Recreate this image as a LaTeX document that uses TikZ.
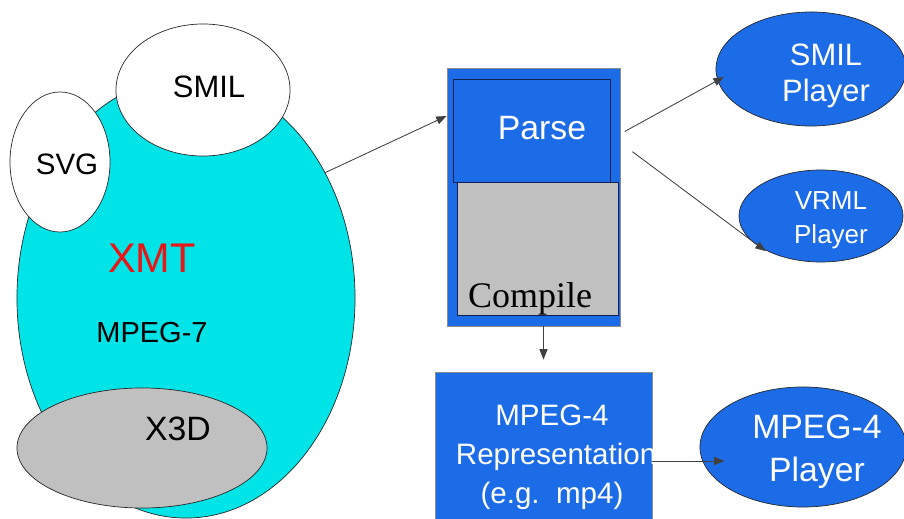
\documentclass[tikz,border=0pt]{standalone}
\usepackage{fontspec}
\setmainfont{Liberation Sans}
\newfontfamily\serifface{Liberation Serif}
\usetikzlibrary{arrows.meta,calc,positioning,shapes.geometric}
\definecolor{pptblue}{RGB}{28,108,232}
\definecolor{xmtcyan}{RGB}{0,228,232}
\definecolor{boxgray}{RGB}{192,192,192}
\definecolor{edge}{RGB}{40,40,40}
\definecolor{navy}{RGB}{16,32,80}
\definecolor{xmtred}{RGB}{236,20,20}

\tikzset{
  blob/.style={ellipse,draw=edge,line width=0.5pt,inner sep=0pt},
  panel/.style={rectangle,draw=edge,line width=0.5pt,inner sep=0pt},
  link/.style={draw=black!75,line width=0.6pt,
    -{Triangle[length=0.26cm,width=0.2cm]}},
  txt/.style={anchor=base,inner sep=0pt}
}

\begin{document}
\begin{tikzpicture}[x=0.025cm,y=-0.025cm]
\useasboundingbox (0,0) rectangle (904,519);
\fill[white] (0,0) rectangle (904,519);

% XMT family
\node[blob,fill=xmtcyan,minimum width=8.45cm,minimum height=11cm] (xmtbg) at (186,298) {};
\node[blob,fill=white,minimum width=4.35cm,minimum height=3.3cm] (smilbg) at (203,90) {};
\node[blob,fill=white,minimum width=2.5cm,minimum height=3.5cm] (svgbg) at (60,162) {};
\node[blob,fill=boxgray,minimum width=6.25cm,minimum height=3cm] (x3dbg) at (142,448) {};
\node[txt,font=\fontsize{22}{26}\selectfont] (smil) at (209,98) {SMIL};
\node[txt,font=\fontsize{21}{25}\selectfont] (svg) at (67,175) {SVG};
\node[txt,xmtred,font=\fontsize{29.5}{34}\selectfont] (xmt) at (152,273) {XMT};
\node[txt,font=\fontsize{20.6}{25}\selectfont] (mpegseven) at (152,343) {MPEG-7};
\node[txt,font=\fontsize{24}{28}\selectfont] (xthreed) at (178,440) {X3D};

% Parse / Compile stage
\node[panel,fill=pptblue,draw=black!45,minimum width=4.325cm,minimum height=6.45cm] (outer) at (533.5,197) {};
\node[panel,fill=pptblue,draw=navy,minimum width=3.925cm,minimum height=2.575cm] (parsebox) at (531.5,130.5) {};
\node[panel,fill=boxgray,draw=navy,minimum width=4.025cm,minimum height=3.325cm] (compilebox) at (537.5,248.5) {};
\node[txt,white,font=\fontsize{24}{28}\selectfont] (parse) at (542,140) {Parse};
\node[txt,font=\serifface\fontsize{25.6}{30}\selectfont] (compile) at (530,308) {Compile};

% MPEG-4 representation
\node[panel,fill=pptblue,draw=black!45,minimum width=5.425cm,minimum height=4.45cm] (rep) at (543.5,461) {};
\node[white,align=center,inner sep=0pt,font=\fontsize{21}{27.7}\selectfont] (reptext) at (552,457)
  {MPEG-4\\\ Representation\\(e.g.\ \ mp4)};

% Players
\node[blob,fill=pptblue,minimum width=4.75cm,minimum height=2.85cm] (splay) at (811,69) {};
\node[blob,fill=pptblue,minimum width=4.1cm,minimum height=2.3cm] (vplay) at (821,216) {};
\node[blob,fill=pptblue,minimum width=5.15cm,minimum height=3cm] (mplay) at (803,447) {};
\node[white,align=center,inner sep=0pt,font=\fontsize{22}{26}\selectfont] (splaytext) at (826,76) {SMIL\\Player};
\node[white,align=center,inner sep=0pt,font=\fontsize{18.5}{24}\selectfont] (vplaytext) at (831,220) {VRML\\Player};
\node[white,align=center,inner sep=0pt,font=\fontsize{24}{30.5}\selectfont] (mplaytext) at (817,452) {MPEG-4\\Player};

% connectors
\draw[link] (xmtbg.42) -- (outer.137);
\draw[link,shorten <=0.125cm,shorten >=-0.18cm] (outer.36) -- (splay.187);
\draw[link,shorten <=0.375cm,shorten >=-0.5cm] (outer.32) -- (vplay.198);
\draw[link,shorten >=0.3cm] (rep.north |- outer.south) -- (rep.north);
\draw[link,shorten >=-0.625cm] (rep.east) -- (rep.east -| mplay.west);
\end{tikzpicture}
\end{document}
